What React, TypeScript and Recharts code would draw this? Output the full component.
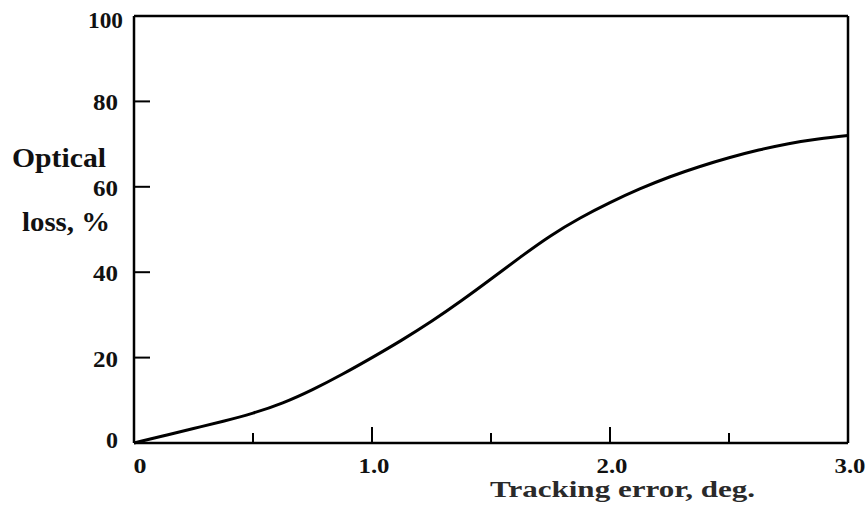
import React from "react";
import { LineChart, Line, XAxis, YAxis, ReferenceLine, Label } from "recharts";

const trackingError = [0, 0.125, 0.25, 0.375, 0.5, 0.625, 0.75, 0.875, 1.0, 1.125, 1.25, 1.375, 1.5, 1.625, 1.75, 1.875, 2.0, 2.125, 2.25, 2.375, 2.5, 2.625, 2.75, 2.875, 3.0];
const opticalLoss = [0, 1.7, 3.4, 5.1, 7.0, 9.4, 12.5, 16.1, 20.0, 24.1, 28.5, 33.3, 38.4, 43.6, 48.5, 52.7, 56.3, 59.5, 62.3, 64.7, 66.8, 68.6, 70.1, 71.2, 72.0];
const xTicks = [0, 0.5, 1.0, 1.5, 2.0, 2.5, 3.0];
const xTickLabels: Record<string, string> = { "0": "0", "1": "1.0", "2": "2.0", "3": "3.0" };
const yTicks = [0, 20, 40, 60, 80, 100];

const data = trackingError.map((x, i) => ({ x, y: opticalLoss[i] }));

const FONT = "'Liberation Serif', 'Times New Roman', serif";

const XTick = (props: any) => {
  const { x, y, payload } = props;
  const v = payload.value;
  const lbl = xTickLabels[String(v)];
  const showLine = v > 0 && v < 3;
  const major = Number.isInteger(v);
  return (
    <g>
      {showLine && (
        <line x1={x} x2={x} y1={y} y2={y - (major ? 16 : 10)} stroke="#000" strokeWidth={2} />
      )}
      {lbl !== undefined && (
        <text
          x={v === 0 ? x + 6 : x + 2}
          y={y + 30}
          textAnchor="middle"
          fontFamily={FONT}
          fontWeight="bold"
          fontSize={22}
          fill="#111"
          textLength={lbl.length === 1 ? 13 : 31}
          lengthAdjust="spacingAndGlyphs"
        >
          {lbl}
        </text>
      )}
    </g>
  );
};

const YTick = (props: any) => {
  const { x, y, payload } = props;
  const v = payload.value;
  const showLine = v > 0 && v < 100;
  const s = String(v);
  const dy = v === 100 ? 12 : v === 0 ? 5 : 9;
  return (
    <g>
      {showLine && <line x1={x} x2={x + 16} y1={y} y2={y} stroke="#000" strokeWidth={2} />}
      <text
        x={v === 100 ? x - 11 : x - 16}
        y={y + dy}
        textAnchor="end"
        fontFamily={FONT}
        fontWeight="bold"
        fontSize={23}
        fill="#111"
        textLength={s.length === 1 ? 12 : s.length === 2 ? 25 : 35}
        lengthAdjust="spacingAndGlyphs"
      >
        {s}
      </text>
    </g>
  );
};

export default function App() {
  return (
    <div style={{ position: "absolute", left: 0, top: 0, width: 868, height: 506, background: "#fff" }}>
      <LineChart width={868} height={506} data={data} margin={{ top: 16, right: 20, left: 94, bottom: 33 }}>
        <XAxis
          dataKey="x"
          type="number"
          domain={[0, 3]}
          ticks={xTicks}
          interval={0}
          tick={<XTick />}
          tickLine={false}
          tickSize={0}
          tickMargin={0}
          height={30}
          axisLine={{ stroke: "#000", strokeWidth: 2.5 }}
        >
          <Label
            content={() => (
              <text
                x={490}
                y={497}
                textAnchor="start"
                fontFamily={FONT}
                fontWeight="bold"
                fontSize={23}
                fill="#2a2a2a"
                textLength={265}
                lengthAdjust="spacingAndGlyphs"
              >
                Tracking error, deg.
              </text>
            )}
          />
        </XAxis>
        <YAxis
          type="number"
          domain={[0, 100]}
          ticks={yTicks}
          interval={0}
          tick={<YTick />}
          tickLine={false}
          tickSize={0}
          tickMargin={0}
          width={40}
          axisLine={{ stroke: "#000", strokeWidth: 2.5 }}
        >
          <Label
            content={() => (
              <g>
                <text
                  x={12}
                  y={167}
                  textAnchor="start"
                  fontFamily={FONT}
                  fontWeight="bold"
                  fontSize={27}
                  fill="#111"
                  textLength={94}
                  lengthAdjust="spacingAndGlyphs"
                >
                  Optical
                </text>
                <text
                  x={22}
                  y={231}
                  textAnchor="start"
                  fontFamily={FONT}
                  fontWeight="bold"
                  fontSize={27}
                  fill="#111"
                  textLength={88}
                  lengthAdjust="spacingAndGlyphs"
                >
                  loss, %
                </text>
              </g>
            )}
          />
        </YAxis>
        <ReferenceLine y={100} stroke="#000" strokeWidth={2.5} ifOverflow="visible" />
        <ReferenceLine x={3} stroke="#000" strokeWidth={2.5} ifOverflow="visible" />
        <Line
          type="natural"
          dataKey="y"
          stroke="#000"
          strokeWidth={3}
          dot={false}
          isAnimationActive={false}
        />
      </LineChart>
    </div>
  );
}
